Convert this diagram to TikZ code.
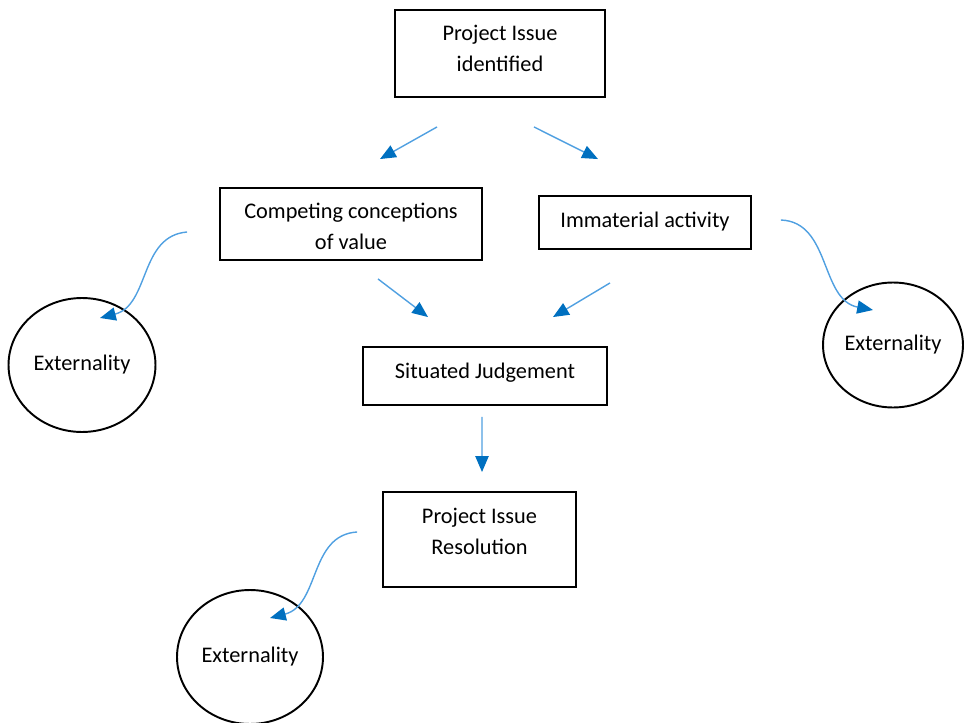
\documentclass[tikz,border=0pt]{standalone}
\usepackage{fontspec}
\setmainfont{Carlito}
\usetikzlibrary{arrows.meta,shapes.geometric,calc}
\definecolor{flowblue}{RGB}{80,160,225}
\definecolor{tipblue}{RGB}{0,112,192}

\begin{document}
\begin{tikzpicture}[
    x = 0.02cm, y = -0.02cm, % one unit = one pixel of the layout
    font = \fontsize{12.7}{17.3}\selectfont,
    flow/.style = {draw = flowblue, line width = 0.8pt,
        -{Triangle[length=9pt, width=7.5pt, color=tipblue]}}
    ]

    \tikzset{
    box/.style = {draw = black, line width = 1.1pt, inner sep = 0pt},
    txt/.style = {align = center, inner sep = 0pt}, % text sits a bit high in the boxes
    ext/.style = {ellipse, draw = black, line width = 1.1pt, inner sep = 0pt}
    }
    \useasboundingbox (0,0) rectangle (964,723);

    \node[box, minimum width=4.2cm, minimum height=1.74cm,
        label={[txt, yshift=0.1cm]center:{Project Issue\\identified}}] (top) at (500,53.5) {};
    \node[box, minimum width=5.24cm, minimum height=1.44cm,
        label={[txt, yshift=-0.05cm]center:{Competing conceptions\\of value}}] (comp) at (351,224) {};
    \node[box, minimum width=4.24cm, minimum height=1.06cm,
        label={[txt, yshift=0.02cm]center:Immaterial activity}] (imm) at (645,222.5) {};
    \node[box, minimum width=4.88cm, minimum height=1.16cm,
        label={[txt, yshift=0.06cm]center:Situated Judgement}] (sit) at (485,376) {};
    \node[box, minimum width=3.86cm, minimum height=1.9cm,
        label={[txt, yshift=0.16cm]center:{Project Issue\\Resolution}}] (res) at (479.5,539.5) {};

    \node[ext, minimum width=2.94cm, minimum height=2.68cm] (ext1) at (82,365) {Externality};
    \node[ext, minimum width=2.8cm, minimum height=2.5cm] (ext2) at (893,345) {Externality};
    \node[ext, minimum width=2.92cm, minimum height=2.68cm] (ext3) at (250,657) {Externality};

    % main flow
    \draw[flow] ($(top.south)+(-63,29)$) -- ($(comp.north)+(29,-28)$);
    \draw[flow] ($(top.south)+(34,29)$) -- ($(imm.north)+(-47,-36)$);
    \draw[flow] ($(comp.south)+(27,18)$) -- ($(sit.north)+(-57,-29)$);
    \draw[flow] ($(imm.south)+(-35,33)$) -- ($(sit.north)+(68,-29)$);
    \draw[flow] ($(sit.south)+(-3,11)$) -- ($(res.north)+(2.5,-19)$);

    % spill-overs
    \draw[flow] ($(comp.west)+(-32,8)$) .. controls +(-48,4) and +(50,-13) .. ($(ext1)+(18,-47)$);
    \draw[flow] ($(imm.east)+(29,-2.5)$) .. controls +(50,2) and +(-53,-10) .. ($(ext2)+(-20,-35)$);
    \draw[flow] ($(res.west)+(-25,-7.5)$) .. controls +(-48,3) and +(50,-13) .. ($(ext3)+(20,-39)$);
\end{tikzpicture}
\end{document}
